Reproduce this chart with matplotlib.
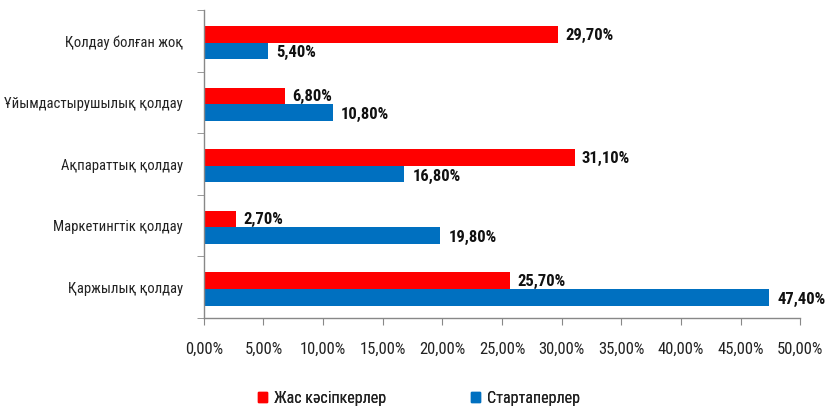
import matplotlib
matplotlib.use("Agg")
import matplotlib.pyplot as plt
import numpy as np
from matplotlib.ticker import FixedLocator
from matplotlib.patches import Patch

plt.rcParams['font.family'] = ['Roboto Condensed', 'DejaVu Sans']

categories = ["Қолдау болған жоқ", "Ұйымдастырушылық қолдау", "Ақпараттық қолдау",
              "Маркетингтік қолдау", "Қаржылық қолдау"]
young = [29.7, 6.8, 31.1, 2.7, 25.7]
startups = [5.4, 10.8, 16.8, 19.8, 47.4]
series_names = ["Жас кәсіпкерлер", "Стартаперлер"]
xticks = [0, 5, 10, 15, 20, 25, 30, 35, 40, 45, 50]

red = "#FF0000"
blue = "#0070C0"
txtc = "#222222"

fig = plt.figure(figsize=(8.25, 4.08), dpi=100)
ax = fig.add_axes([0.247, 0.221, 0.723, 0.754])

n = len(categories)
y = np.arange(n)[::-1].astype(float) - 0.03
h = 0.27
ax.barh(y + h / 2, young, height=h, color=red, label=series_names[0])
ax.barh(y - h / 2, startups, height=h, color=blue, label=series_names[1])

def fmt(v):
    return f"{v:.2f}".replace(".", ",") + "%"

for yi, v in zip(y, young):
    ax.text(v + 0.6, yi + h / 2 - 0.01, fmt(v), va="center", ha="left",
            fontsize=12, fontweight="bold", color="#111111")
for yi, v in zip(y, startups):
    ax.text(v + 0.7, yi - h / 2 - 0.03, fmt(v), va="center", ha="left",
            fontsize=12, fontweight="bold", color="#111111")

ax.set_xlim(0, 50)
ax.set_ylim(-0.5, n - 0.5)
ax.set_xticks(xticks)
ax.set_xticklabels([fmt(t) for t in xticks], fontsize=12, color=txtc)
ax.set_yticks(y + 0.03)
ax.set_yticklabels(categories, fontsize=10.5, color=txtc)
ax.tick_params(axis="y", length=0, pad=15)
ax.yaxis.set_minor_locator(FixedLocator(np.arange(-0.5, n, 1.0)))
ax.tick_params(axis="y", which="minor", length=5, color="#888888", direction="out")
ax.tick_params(axis="x", length=5, color="#888888", direction="out", pad=12)

for s in ["top", "right"]:
    ax.spines[s].set_visible(False)
for s in ["left", "bottom"]:
    ax.spines[s].set_color("#888888")
    ax.spines[s].set_linewidth(1.0)

handles = [Patch(color=red), Patch(color=blue)]
anchors = [(258 / 825, 1 - 398 / 408), (471 / 825, 1 - 398 / 408)]
for hnd, name, anc in zip(handles, series_names, anchors):
    lg = fig.legend(handles=[hnd], labels=[name], loc="center left", bbox_to_anchor=anc,
                    frameon=False, fontsize=11.5, handlelength=0.55, handleheight=0.55,
                    handletextpad=0.45, borderpad=0, borderaxespad=0, labelcolor=txtc)
    fig.add_artist(lg)

fig.savefig("out.png", dpi=100)
